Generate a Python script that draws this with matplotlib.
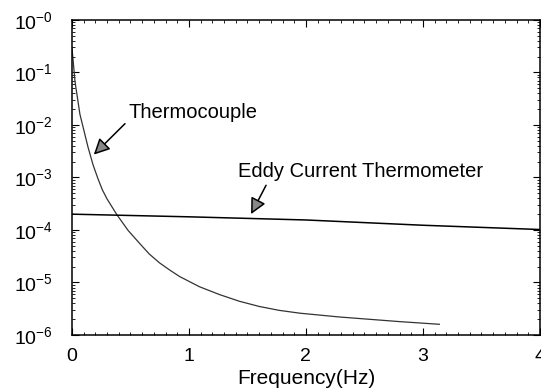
import numpy as np
import matplotlib
matplotlib.use("Agg")
import matplotlib.pyplot as plt
from matplotlib.ticker import FixedLocator, LogLocator, MultipleLocator, NullFormatter

plt.rcParams['font.family'] = ['Liberation Sans', 'DejaVu Sans']
plt.rcParams['mathtext.fontset'] = 'custom'
plt.rcParams['mathtext.rm'] = 'Liberation Sans'
plt.rcParams['mathtext.it'] = 'Liberation Sans'

# thermocouple response
thermo_f = [0.0, 0.026, 0.068, 0.137, 0.18, 0.222, 0.26, 0.30, 0.384, 0.48, 0.58, 0.66, 0.75, 0.84, 0.92,
            1.09, 1.26, 1.43, 1.60, 1.77, 1.95, 2.29, 2.80, 3.14]
thermo_v = [3e-1, 6.7e-2, 1.6e-2, 3.8e-3, 1.75e-3, 9.5e-4, 5.8e-4, 3.9e-4, 1.95e-4, 9.8e-5, 5.5e-5, 3.5e-5, 2.35e-5, 1.7e-5, 1.3e-5,
            8.3e-6, 5.9e-6, 4.4e-6, 3.5e-6, 2.95e-6, 2.6e-6, 2.2e-6, 1.8e-6, 1.6e-6]

# eddy current thermometer
eddy_f = [0, 1, 2, 3, 4]
eddy_v = [2e-4, 1.78e-4, 1.55e-4, 1.23e-4, 1.02e-4]

ytick_vals = [1e0, 1e-1, 1e-2, 1e-3, 1e-4, 1e-5, 1e-6]
ytick_labels = [r'$10^{-0}$', r'$10^{-1}$', r'$10^{-2}$', r'$10^{-3}$',
                r'$10^{-4}$', r'$10^{-5}$', r'$10^{-6}$']

fig = plt.figure(figsize=(5.41, 3.90), dpi=100)
ax = fig.add_axes([0.133, 0.141, 0.865, 0.808])

ax.semilogy(thermo_f, thermo_v, color='#333333', lw=0.9)
ax.semilogy(eddy_f, eddy_v, color='black', lw=1.1)

ax.set_xlim(0, 4)
ax.set_ylim(1e-6, 1e0)
ax.set_xticks([0, 1, 2, 3, 4])
ax.xaxis.set_minor_locator(MultipleLocator(0.1))
ax.yaxis.set_major_locator(FixedLocator(ytick_vals))
ax.set_yticklabels(ytick_labels)
ax.yaxis.set_minor_locator(LogLocator(base=10, subs=np.arange(2, 10), numticks=20))
ax.yaxis.set_minor_formatter(NullFormatter())
ax.tick_params(which='both', direction='in', top=True, right=True, labelsize=14)
ax.tick_params(axis='y', which='major', pad=14)
ax.tick_params(axis='x', which='major', pad=9)
ax.tick_params(which='major', length=5)
ax.tick_params(which='minor', length=2.5)
ax.set_xlabel('Frequency(Hz)', fontsize=15, labelpad=3)
for s in ax.spines.values():
    s.set_linewidth(1.1)

arrow = dict(arrowstyle='-|>', fc='#888888', ec='black', lw=1.1, mutation_scale=24)
ax.text(0.48, 0.0174, 'Thermocouple', fontsize=14.5, va='center', ha='left')
ax.annotate('', xy=(0.17, 2.5e-3), xytext=(0.47, 1.15e-2), arrowprops=arrow)
ax.text(1.42, 1.3e-3, 'Eddy Current Thermometer', fontsize=14.5, va='center', ha='left')
ax.annotate('', xy=(1.52, 1.8e-4), xytext=(1.67, 7.9e-4), arrowprops=arrow)

fig.savefig('out.png', dpi=100)
